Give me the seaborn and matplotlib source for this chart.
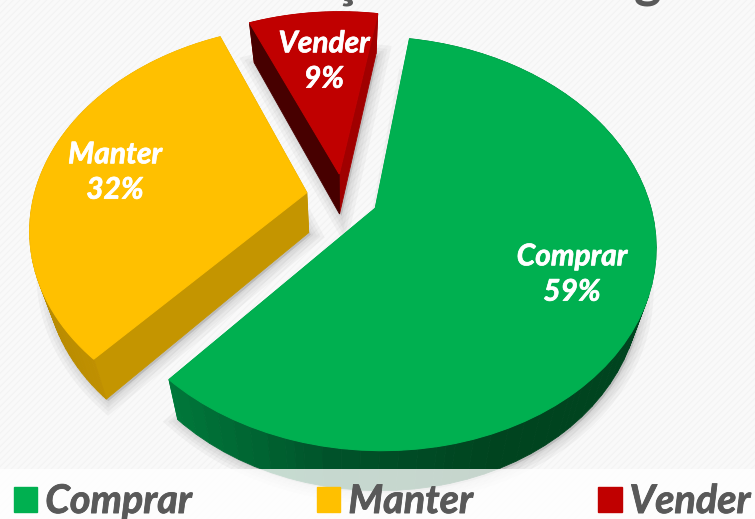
import numpy as np
import matplotlib
matplotlib.use("Agg")
import matplotlib.pyplot as plt
import matplotlib.patheffects as pe
import seaborn as sns
from matplotlib.patches import Patch, Rectangle
from matplotlib.transforms import Affine2D

# ---------------- data ----------------
categories = ["Comprar", "Manter", "Vender"]
shares = [59, 32, 9]

# ---------------- style ----------------
top_colors = ["#00b050", "#ffc000", "#c00000"]
side_colors = ["#00a048", "#c49500", "#470000"]
right_side_colors = ["#00a048", "#c49500", "#a00000"]
arc_ramps = [["#00773a", "#00522a", "#00441f", "#00441f"],
             ["#b88a00", "#d6a300"],
             ["#a00000", "#a00000"]]
label_xy = [(572, 274), (115, 172), (324, 61)]
explode_by = [0.13, 0.135, 0.12]
start_angle = 80.5
center_x, center_y = 343, 197
scale_x, scale_y, persp = 273, 197, 0.17
depth, shrink, vanish_x = 40, 0.05, 345
band_y = 469

sns.set_theme(style="white")
plt.rcParams["font.family"] = ["Lato", "DejaVu Sans"]
plt.rcParams["hatch.linewidth"] = 0.8


def project(pts):
    x, y = pts[:, 0], pts[:, 1]
    w = 1 + persp * y
    return np.column_stack([center_x + scale_x * x / w, center_y - scale_y * y / w])


def extrude(pts):
    return np.column_stack([vanish_x + (pts[:, 0] - vanish_x) * (1 - shrink), pts[:, 1] + depth])


fig = plt.figure(figsize=(7.55, 5.19), dpi=100)
ax = fig.add_axes([0, 0, 1, 1])

# the pie gives the wedge outlines, they are then tilted into the picture
wedges, _ = ax.pie(shares, explode=explode_by, startangle=start_angle, counterclock=False)
outlines = []
for wedge in wedges:
    path = wedge.get_patch_transform().transform_path(wedge.get_path())
    poly = path.to_polygons(Affine2D().scale(400))[0] / 400
    outlines.append(project(poly))
    wedge.remove()

ax.set_aspect("auto")
ax.set_xlim(0, 755)
ax.set_ylim(519, 0)
ax.axis("off")

ax.add_patch(Rectangle((0, 0), 755, 519, facecolor="#f9f9f9", edgecolor="#f3f3f3",
                       hatch="/////", lw=0, zorder=0))

# far slices first, nearest last
for i in [2, 1, 0]:
    top = outlines[i]
    low = extrude(top)
    for lw in (16, 11, 7, 3):
        ax.fill(low[:, 0] + 2, low[:, 1] + 2, color="#555555", alpha=0.05, lw=lw, zorder=1 + (2 - i))

    ramp = sns.blend_palette(arc_ramps[i], 64)
    xmin, xmax = top[:, 0].min(), top[:, 0].max()
    n = len(top) - 1
    segs = sorted(range(n), key=lambda j: top[j, 1] + top[j + 1, 1])
    for j in segs:
        a, b = top[j], top[j + 1]
        quad = np.array([a, b, extrude(b[None])[0], extrude(a[None])[0]])
        if np.hypot(*(b - a)) > 60:
            color = side_colors[i] if a[0] + b[0] < 2 * center_x or i == 1 else right_side_colors[i]
        else:
            pos = ((a[0] + b[0]) / 2 - xmin) / (xmax - xmin)
            color = ramp[min(int(pos * 64), 63)]
        ax.fill(quad[:, 0], quad[:, 1], color=color, lw=0.6, zorder=1.5 + (2 - i))
    ax.fill(top[:, 0], top[:, 1], color=top_colors[i], lw=0.8, zorder=1.7 + (2 - i))

for name, share, (x, y) in zip(categories, shares, label_xy):
    t = ax.text(x, y, f"{name}\n{share}%", color="white", fontsize=21.5, fontweight="bold",
                fontstyle="italic", ha="center", va="center", linespacing=1.32, zorder=6)
    t.set_path_effects([pe.withStroke(linewidth=0.5, foreground="white")])

# lower band washes out the bottom of the pie
ax.add_patch(Rectangle((0, band_y), 755, 519 - band_y, facecolor="white", alpha=0.78, lw=0, zorder=7))

# only the descenders of the cut off title are in the picture
ax.text(345, -3, "ç", color="#595959", fontsize=38, fontweight="bold", ha="center", va="baseline", zorder=8)
ax.text(648, -3, "g", color="#595959", fontsize=38, fontweight="bold", ha="center", va="baseline", zorder=8)

handles = [Patch(color=c, label=n) for c, n in zip(top_colors, categories)]
leg = ax.legend(handles=handles, ncols=3, loc="lower left", bbox_to_anchor=(0.018, -0.002), frameon=False,
                handlelength=0.6, handleheight=0.6, handletextpad=0.2,
                columnspacing=3.15, borderpad=0, borderaxespad=0,
                prop={"size": 28.5, "weight": "bold", "style": "italic"}, labelcolor="#595959")
leg.set_zorder(9)
for txt in leg.get_texts():
    txt.set_path_effects([pe.withStroke(linewidth=0.6, foreground="#595959")])

fig.savefig("out.png", dpi=100)
